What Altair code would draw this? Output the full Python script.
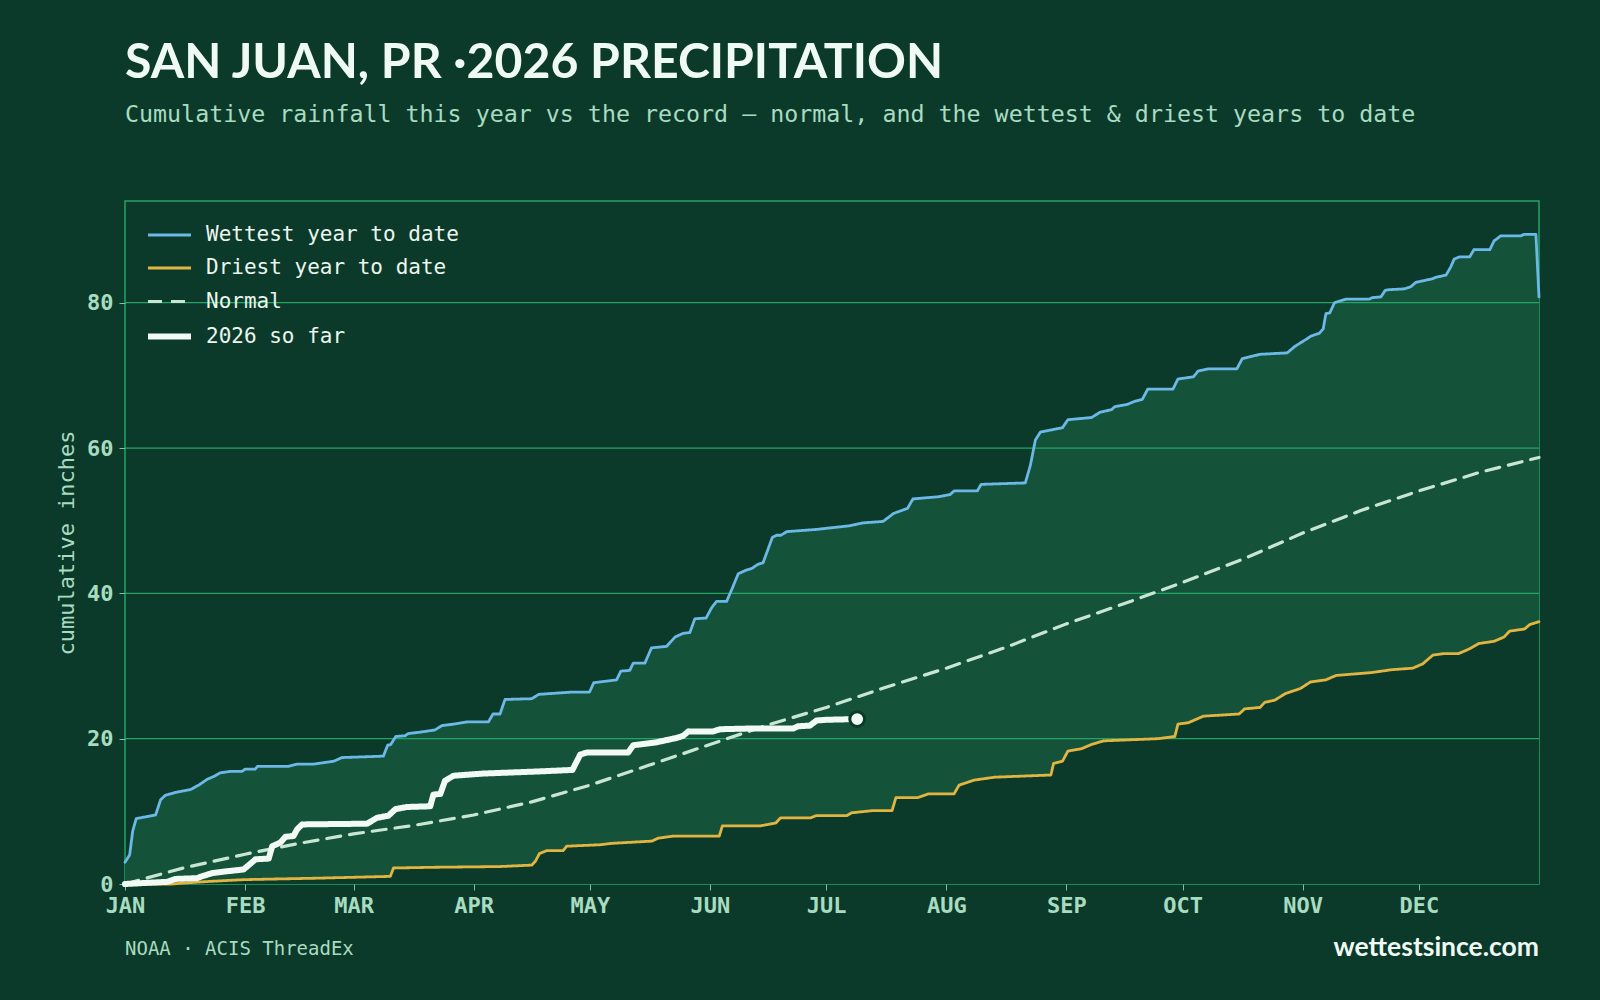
import altair as alt
import pandas as pd

TITLE = "SAN JUAN, PR ·2026 PRECIPITATION"
SUBTITLE = "Cumulative rainfall this year vs the record — normal, and the wettest & driest years to date"
SOURCE = "NOAA · ACIS ThreadEx"
SITE = "wettestsince.com"
Y_TITLE = "cumulative inches"

SERIES = ["Wettest year to date", "Driest year to date", "Normal", "2026 so far"]

MONTH_TICKS = [0, 31, 59, 90, 120, 151, 181, 212, 243, 273, 304, 334]
MONTH_LABELS = ["JAN", "FEB", "MAR", "APR", "MAY", "JUN", "JUL", "AUG", "SEP", "OCT", "NOV", "DEC"]
Y_TICKS = [0, 20, 40, 60, 80]
GRID_VALUES = [20, 40, 60, 80]

# Wettest year to date (day of year, cumulative inches)
WET_DAYS = [0, 1.2, 2, 2.9, 7.9, 9.2, 10.4, 13, 16.9, 19,
            21.2, 22.9, 24.6, 27.2, 30.2, 31, 33.6, 34.2, 42.2, 44.4,
            48.7, 53.9, 56, 61.6, 66.7, 67.8, 68.6, 69.9, 72.3, 73.1,
            76.2, 80, 81.8, 84.8, 88.2, 93.8, 95, 96.8, 98.1, 105,
            106.8, 115, 119.9, 121, 126.9, 128, 130.3, 131.2, 134.2, 135.9,
            139.8, 142, 144.1, 145.8, 147.1, 150, 151.4, 152.7, 155.3, 156.6,
            158.3, 160.4, 161.7, 163.4, 164.7, 167.1, 168.2, 169.3, 170.9, 178.5,
            187, 190.5, 195.7, 198.4, 202, 203.4, 210, 213, 214, 220,
            221, 232.4, 233.7, 235, 236.3, 242, 243.4, 249.5, 251.6, 254.7,
            255.5, 258.7, 260.5, 262.6, 264, 270.5, 271.8, 275.8, 277, 279.7,
            287, 288.4, 293, 300, 302, 305.3, 306.1, 308.3, 309.3, 310,
            311, 312.2, 315.2, 321.2, 322, 324.2, 325.3, 326.3, 330.2, 331.9,
            333.2, 335.8, 337.5, 338.4, 341, 342.2, 343.1, 344.4, 347.1, 348.2,
            352.3, 353.4, 355.1, 360.3, 361.1, 364.2, 365]
WET_VALUES = [3.0, 4.0, 7.3, 9.0, 9.5, 11.6, 12.2, 12.6, 13.0, 13.6,
              14.4, 14.8, 15.3, 15.5, 15.5, 15.8, 15.8, 16.2, 16.2, 16.5,
              16.5, 16.9, 17.4, 17.5, 17.6, 19.1, 19.2, 20.3, 20.4, 20.7,
              20.9, 21.2, 21.8, 22.0, 22.3, 22.3, 23.4, 23.4, 25.4, 25.5,
              26.1, 26.4, 26.4, 27.7, 28.1, 29.3, 29.4, 30.4, 30.4, 32.5,
              32.7, 34.0, 34.5, 34.6, 36.5, 36.6, 38.0, 38.9, 38.9, 40.5,
              42.7, 43.2, 43.4, 44.0, 44.2, 47.7, 48.0, 48.0, 48.5, 48.8,
              49.3, 49.7, 49.9, 51.0, 51.7, 53.0, 53.3, 53.6, 54.1, 54.1,
              55.0, 55.2, 57.6, 61.1, 62.2, 62.8, 63.9, 64.2, 64.9, 65.3,
              65.7, 66.0, 66.4, 66.7, 68.1, 68.1, 69.5, 69.8, 70.6, 70.9,
              70.9, 72.3, 72.9, 73.1, 74.0, 75.1, 75.4, 75.8, 76.4, 78.5,
              78.6, 80.0, 80.5, 80.5, 80.7, 80.8, 81.7, 81.8, 81.9, 82.2,
              82.8, 83.1, 83.3, 83.5, 83.8, 84.9, 86.0, 86.3, 86.3, 87.3,
              87.3, 88.5, 89.2, 89.2, 89.4, 89.4, 80.8]

# Driest year to date
DRY_DAYS = [0, 12.2, 15.2, 22, 30.6, 49.6, 68.5, 69.3, 79.6, 96.8,
            105, 105.9, 107, 108.9, 113.1, 114, 122.6, 125.8, 136, 137.6,
            141.6, 153.4, 154.2, 164, 168, 169.2, 177, 178.4, 186.3, 187.6,
            193, 198, 199, 204.7, 207.4, 214, 215.3, 219.2, 224.5, 239,
            239.7, 242, 243.4, 246.8, 249.5, 252.6, 266.6, 271, 271.8, 274.5,
            278.4, 287.6, 289, 293, 294.2, 296.8, 299.5, 303.4, 306, 310,
            312.6, 321.8, 327.1, 332.4, 335, 337.6, 340.3, 344.2, 346.8, 349.5,
            353.4, 356, 357.4, 361.3, 362.6, 365]
DRY_VALUES = [0, 0, 0.14, 0.36, 0.6, 0.8, 1.05, 2.2, 2.3, 2.4,
              2.6, 3.1, 4.2, 4.6, 4.6, 5.2, 5.4, 5.6, 5.9, 6.3,
              6.6, 6.6, 8.0, 8.0, 8.4, 9.1, 9.1, 9.4, 9.4, 9.8,
              10.1, 10.1, 11.9, 11.9, 12.4, 12.4, 13.6, 14.3, 14.7, 15.0,
              16.6, 16.9, 18.3, 18.6, 19.2, 19.7, 20.0, 20.3, 22.0, 22.2,
              23.1, 23.4, 24.1, 24.3, 25.0, 25.3, 26.2, 26.9, 27.8, 28.1,
              28.7, 29.1, 29.5, 29.7, 30.3, 31.5, 31.7, 31.7, 32.3, 33.1,
              33.4, 34.0, 34.8, 35.1, 35.7, 36.1]

# Normal
NORMAL_DAYS = [0, 15, 31, 45, 59, 75, 90, 105, 120, 135, 151, 166, 181,
               196, 212, 227, 243, 258, 273, 289, 304, 319, 334, 350, 365]
NORMAL_VALUES = [0, 2.2, 4.1, 5.6, 6.9, 8.1, 9.5, 11.3, 13.6, 16.3, 19.2, 21.9, 24.3,
                 27.0, 29.7, 32.5, 35.8, 38.6, 41.5, 44.8, 48.3, 51.4, 54.1, 56.7, 58.7]

# 2026 so far
CUR_DAYS = [0, 10.9, 13, 18.6, 19.5, 22.5, 25.5, 30.6, 31.5, 33.7,
            37.1, 38, 40.1, 41.4, 43.5, 44.4, 45.7, 62.5, 65, 68,
            69.8, 72.8, 78.8, 79.6, 81.4, 82.6, 84.8, 92.5, 107.1, 115.5,
            117.5, 119.2, 129.9, 131.2, 137.2, 139.8, 142.4, 144.1, 145.4, 151.8,
            153.6, 161.3, 172.5, 173.7, 176.8, 178.5, 181.1, 189]
CUR_VALUES = [0, 0.3, 0.7, 0.8, 1.0, 1.5, 1.7, 2.0, 2.4, 3.4,
              3.5, 5.2, 5.7, 6.5, 6.6, 7.5, 8.2, 8.3, 9.1, 9.4,
              10.3, 10.6, 10.7, 12.3, 12.4, 14.2, 14.9, 15.2, 15.5, 15.7,
              17.8, 18.1, 18.1, 19.1, 19.5, 19.8, 20.1, 20.4, 21.0, 21.0,
              21.3, 21.4, 21.4, 21.7, 21.8, 22.5, 22.6, 22.7]

# styles
BG = "#0c3a2a"
BAND = "#14523a"
GRID = "#22a565"
MINT = "#a8dcc0"
WHITE = "#f0faf4"
COLORS = ["#6cb8e6", "#e2b441", "#c8e6d2", "#f2faf5"]
DASHES = [[1, 0], [1, 0], [14, 9], [1, 0]]
WIDTHS = [2.8, 2.8, 3.2, 6]

wet = pd.DataFrame({"day": WET_DAYS, "value": WET_VALUES, "series": SERIES[0]})
dry = pd.DataFrame({"day": DRY_DAYS, "value": DRY_VALUES, "series": SERIES[1]})
nrm = pd.DataFrame({"day": NORMAL_DAYS, "value": NORMAL_VALUES, "series": SERIES[2]})
cur = pd.DataFrame({"day": CUR_DAYS, "value": CUR_VALUES, "series": SERIES[3]})
others = pd.concat([wet, dry, nrm], ignore_index=True)
last = cur.iloc[[-1]]

label_expr = "{" + ",".join(f"'{d}':'{m}'" for d, m in zip(MONTH_TICKS, MONTH_LABELS)) + "}[''+datum.value]"

xs = alt.Scale(domain=[0, 365], nice=False, zero=False)
ys = alt.Scale(domain=[0, 94], nice=False)

x_enc = alt.X("day:Q", scale=xs, axis=alt.Axis(
    values=MONTH_TICKS, labelExpr=label_expr, title=None, grid=False, domain=False,
    ticks=True, tickSize=6, tickColor="#8dbba0", labelFont="DejaVu Sans Mono",
    labelFontWeight="bold", labelFontSize=22, labelColor=MINT, labelPadding=5,
    labelFlush=False))
y_enc = alt.Y("value:Q", scale=ys, axis=alt.Axis(
    values=Y_TICKS, title=Y_TITLE, grid=False, domain=False, ticks=True, tickSize=6,
    tickColor="#8dbba0", labelFont="DejaVu Sans Mono", labelFontWeight="bold",
    labelFontSize=22, labelColor=MINT, labelPadding=6, titleFont="DejaVu Sans Mono",
    titleFontWeight="normal", titleFontSize=22, titleColor=MINT, titlePadding=8))

leg = alt.Legend(title=None)
color_enc = alt.Color("series:N", scale=alt.Scale(domain=SERIES, range=COLORS), legend=leg)
dash_enc = alt.StrokeDash("series:N", scale=alt.Scale(domain=SERIES, range=DASHES), legend=leg)
width_enc = alt.StrokeWidth("series:N", scale=alt.Scale(type="ordinal", domain=SERIES, range=WIDTHS), legend=leg)

band_top = alt.Chart(wet).mark_area(color=BAND, opacity=1).encode(x=x_enc, y=y_enc)
band_bot = alt.Chart(dry).mark_area(color=BG, opacity=1).encode(x="day:Q", y="value:Q")
grid = alt.Chart(pd.DataFrame({"v": GRID_VALUES})).mark_rule(color=GRID, strokeWidth=1.3).encode(
    y=alt.Y("v:Q", scale=ys))

lines = alt.Chart(others).mark_line(strokeCap="round", strokeJoin="round").encode(
    x="day:Q", y="value:Q", color=color_enc, strokeDash=dash_enc, strokeWidth=width_enc)
curline = alt.Chart(cur).mark_line(strokeCap="round", strokeJoin="round").encode(
    x="day:Q", y="value:Q", color=color_enc, strokeDash=dash_enc, strokeWidth=width_enc)
dot = alt.Chart(last).mark_circle(size=220, color=WHITE, opacity=1, stroke=BG, strokeWidth=3).encode(
    x="day:Q", y="value:Q")

src = alt.Chart(pd.DataFrame({"t": [SOURCE]})).mark_text(
    align="left", baseline="alphabetic", font="DejaVu Sans Mono", fontSize=19, color=MINT,
    x=0, y={"expr": "height + 71"}
).encode(text="t:N")
site = alt.Chart(pd.DataFrame({"t": [SITE]})).mark_text(
    align="right", baseline="alphabetic", font="Lato", fontWeight="bold", fontSize=26.5, color=WHITE,
    x="width", y={"expr": "height + 72"}
).encode(text="t:N")

chart = alt.layer(band_top, band_bot, grid, lines, curline, dot, src, site).properties(
    width=1600, height=1000,
    autosize=alt.AutoSizeParams(type="fit", contains="padding"),
    background=BG,
    padding={"left": 55, "top": 38, "right": 59, "bottom": 38},
    title=alt.TitleParams(
        text=TITLE, subtitle=SUBTITLE, anchor="start", frame="group",
        font="Lato", fontSize=48.2, fontWeight="bold", color=WHITE,
        subtitleFont="DejaVu Sans Mono", subtitleFontSize=23.3, subtitleColor=MINT,
        subtitlePadding=16, offset=74),
).configure_view(stroke=GRID, strokeWidth=1.5).configure_legend(
    orient="none", legendX=20, legendY=11, symbolType="stroke", symbolSize=1849,
    labelFont="DejaVu Sans Mono", labelFontSize=21, labelColor="#eaf6ee", labelLimit=500,
    labelOffset=12, rowPadding=-4.3, padding=0
)

chart.save("out.html", embed_options={"renderer": "svg", "actions": False})
